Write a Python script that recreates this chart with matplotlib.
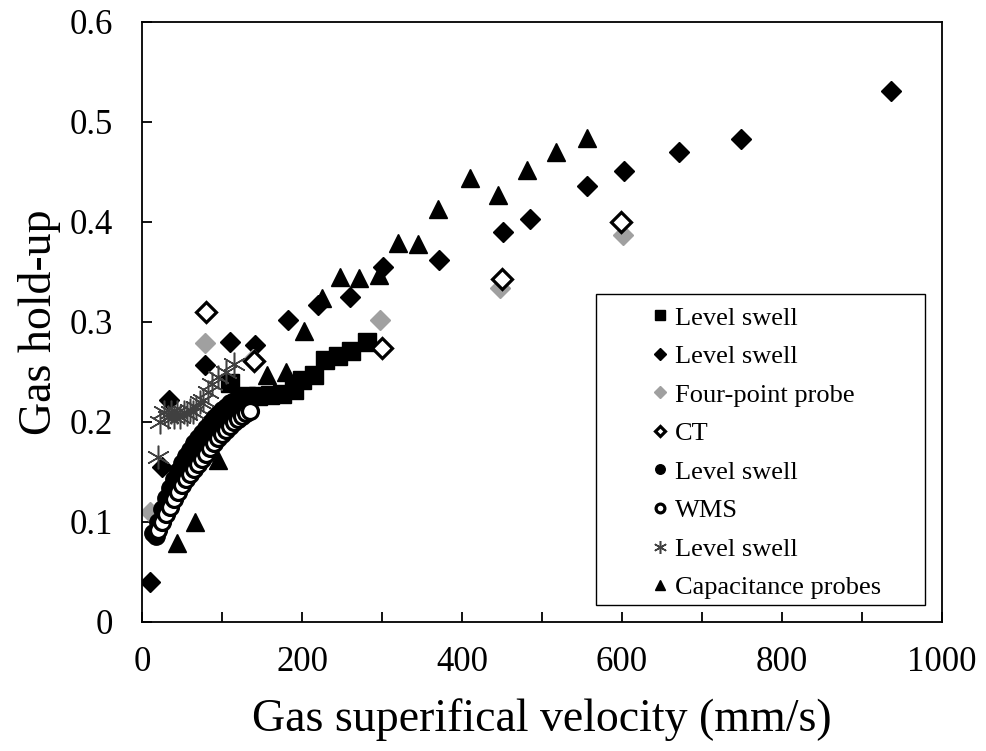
import matplotlib
matplotlib.use("Agg")
import matplotlib.pyplot as plt
from matplotlib.patches import Rectangle

plt.rcParams['font.family'] = ['Liberation Serif', 'DejaVu Serif']

# Level swell (squares)
sq_x = [110, 130, 145, 160, 175, 190, 200, 215, 229, 245, 261, 281]
sq_y = [0.239, 0.226, 0.226, 0.227, 0.228, 0.232, 0.242, 0.247, 0.262, 0.266, 0.271, 0.280]

# Level swell (filled diamonds)
dm_x = [10, 25, 34, 79, 110, 141, 183, 220, 260, 301, 371, 451, 485, 556, 602, 671, 749, 936]
dm_y = [0.040, 0.155, 0.222, 0.257, 0.280, 0.277, 0.302, 0.317, 0.325, 0.355, 0.362,
        0.390, 0.403, 0.436, 0.451, 0.470, 0.483, 0.531]

# Four-point probe (grey diamonds)
fp_x = [10, 79, 139, 298, 448, 601]
fp_y = [0.110, 0.279, 0.263, 0.302, 0.334, 0.387]

# CT (open diamonds)
ct_x = [80, 140, 300, 450, 599]
ct_y = [0.310, 0.261, 0.274, 0.343, 0.400]

# Level swell (filled circles)
fc_x = [14, 18, 20, 25, 30, 35, 40, 45, 50, 55, 60, 65, 70, 75, 80, 85, 90, 95,
        100, 105, 110, 115, 120, 125]
fc_y = [0.089, 0.086, 0.100, 0.113, 0.124, 0.134, 0.143, 0.151, 0.159, 0.166, 0.172,
        0.179, 0.184, 0.189, 0.194, 0.199, 0.204, 0.208, 0.212, 0.215, 0.219, 0.221,
        0.223, 0.225]

# WMS (open circles)
wm_x = [20, 25, 30, 35, 40, 45, 50, 55, 60, 65, 70, 75, 80, 85, 90, 95, 100, 105,
        110, 115, 120, 125, 130, 135]
wm_y = [0.092, 0.100, 0.108, 0.115, 0.123, 0.130, 0.137, 0.143, 0.148, 0.153, 0.158,
        0.163, 0.168, 0.174, 0.179, 0.184, 0.188, 0.192, 0.196, 0.200, 0.203, 0.206,
        0.209, 0.211]

# Level swell (asterisks)
st_x = [20, 22, 28, 32, 36, 40, 44, 48, 52, 56, 60, 64, 68, 72, 76, 82, 88, 95, 105, 115]
st_y = [0.165, 0.200, 0.210, 0.205, 0.210, 0.205, 0.210, 0.205, 0.210, 0.208, 0.212,
        0.210, 0.215, 0.220, 0.222, 0.230, 0.238, 0.245, 0.250, 0.258]

# Capacitance probes (triangles)
tr_x = [44, 66, 95, 156, 180, 202, 225, 248, 271, 296, 320, 345, 370, 410, 445, 481, 517, 556]
tr_y = [0.079, 0.100, 0.162, 0.247, 0.250, 0.291, 0.324, 0.345, 0.344, 0.347, 0.379,
        0.378, 0.413, 0.444, 0.427, 0.452, 0.470, 0.484]

fig = plt.figure(figsize=(9.87, 7.51), dpi=100)
ax = fig.add_axes([142 / 987, 129 / 751, 800 / 987, 600 / 751])

ax.plot(sq_x, sq_y, 's', ms=13, color='black', label='Level swell')
ax.plot(dm_x, dm_y, 'D', ms=10.5, color='black', label='Level swell')
ax.plot(fp_x, fp_y, 'D', ms=10.5, color='#a0a0a0', label='Four-point probe')
ax.plot(ct_x, ct_y, 'D', ms=10, mfc='white', mec='black', mew=2.3, label='CT')
ax.plot(fc_x, fc_y, 'o', ms=12.5, color='black', label='Level swell')
ax.plot(wm_x, wm_y, 'o', ms=11.5, mfc='white', mec='black', mew=2.3, label='WMS')
ax.plot(st_x, st_y, marker=(6, 2, 0), ls='none', ms=17, color='#404040', mew=1.1,
        label='Level swell')
ax.plot(tr_x, tr_y, '^', ms=13.5, color='black', label='Capacitance probes')

ax.set_xlim(0, 1000)
ax.set_ylim(0, 0.6)
ax.set_xticks(range(0, 1001, 100))
ax.set_xticklabels([str(v) if v % 200 == 0 else '' for v in range(0, 1001, 100)])
ax.set_yticks([0, 0.1, 0.2, 0.3, 0.4, 0.5, 0.6])
ax.set_yticklabels(['0', '0.1', '0.2', '0.3', '0.4', '0.5', '0.6'])
ax.tick_params(direction='in', length=7, width=1.3, labelsize=25)
ax.tick_params(axis='x', pad=17)
ax.tick_params(axis='y', pad=21)
for s in ax.spines.values():
    s.set_linewidth(1.3)

ax.set_xlabel('Gas superifical velocity (mm/s)', fontsize=33, labelpad=14)
ax.set_ylabel('Gas hold-up', fontsize=33, labelpad=6)

leg = ax.legend(loc='upper left', bbox_to_anchor=(638 / 987, 1 - 293 / 751),
                bbox_transform=fig.transFigure, frameon=False, fontsize=19,
                markerscale=0.55, handlelength=0.7, handletextpad=0.2,
                labelspacing=0.57, borderpad=0, numpoints=1)
fig.patches.append(Rectangle((596 / 987, 1 - 605 / 751), 329 / 987, 311 / 751,
                             transform=fig.transFigure, fill=False,
                             edgecolor='black', linewidth=1.0))

fig.savefig('out.png', dpi=100)
